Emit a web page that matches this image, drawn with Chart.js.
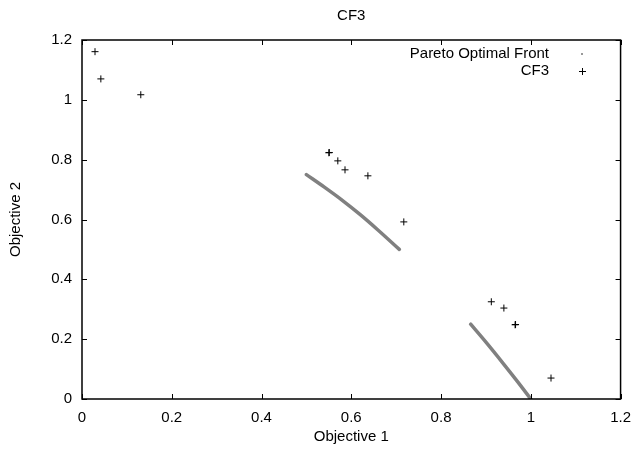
<!DOCTYPE html>
<html>
<head>
<meta charset="utf-8">
<script src="https://cdn.jsdelivr.net/npm/chart.js@4.4.1/dist/chart.umd.min.js"></script>
<style>
  html, body { margin: 0; padding: 0; background: #fff; }
  #chart { display: block; }
</style>
</head>
<body>
<canvas id="chart" width="641" height="454"></canvas>
<script>
// values
const xTicks = [0, 0.2, 0.4, 0.6, 0.8, 1, 1.2];
const yTicks = [0, 0.2, 0.4, 0.6, 0.8, 1, 1.2];

// Pareto optimal front (two pieces, null breaks the line)
const paretoX = [0.50, 0.54, 0.58, 0.62, 0.66, 0.707, null, 0.866, 0.90, 0.94, 0.97, 1.00];
const paretoY = [0.75, 0.708, 0.664, 0.616, 0.564, 0.50, null, 0.25, 0.19, 0.116, 0.059, 0.00];

// CF3 solutions
const cf3X = [0.029, 0.042, 0.131, 0.550, 0.551, 0.570, 0.586, 0.637, 0.717, 0.912, 0.940, 0.965, 0.966, 1.045];
const cf3Y = [1.161, 1.070, 1.017, 0.823, 0.824, 0.796, 0.766, 0.746, 0.592, 0.325, 0.304, 0.248, 0.249, 0.070];

const FONT = "'Liberation Sans', Arial, Helvetica, sans-serif";
const FSIZE = 15;

function toPoints(xs, ys) {
    return xs.map(function(x, i){
        if (x === null) return {x: null, y: null};
        return {x: x, y: ys[i]};
    });
}

// frame, inward ticks on all sides, title, axis titles and key
const decorations = {
    id: 'decorations',
    afterDraw(chart) {
        const ctx = chart.ctx;
        const a = chart.chartArea;
        const xs = chart.scales.x;
        const ys = chart.scales.y;
        const tl = 5;
        ctx.save();
        ctx.strokeStyle = '#000';
        ctx.lineWidth = 1.5;
        ctx.strokeRect(a.left, a.top, a.right - a.left, a.bottom - a.top);

        ctx.lineWidth = 1;
        ctx.beginPath();
        xTicks.forEach(function(v){
            const px = Math.round(xs.getPixelForValue(v)) + 0.5;
            ctx.moveTo(px, a.bottom); ctx.lineTo(px, a.bottom - tl);
            ctx.moveTo(px, a.top); ctx.lineTo(px, a.top + tl);
        });
        yTicks.forEach(function(v){
            const py = Math.round(ys.getPixelForValue(v)) + 0.5;
            ctx.moveTo(a.left, py); ctx.lineTo(a.left + tl, py);
            ctx.moveTo(a.right, py); ctx.lineTo(a.right - tl, py);
        });
        ctx.stroke();

        ctx.fillStyle = '#000';
        ctx.font = FSIZE + 'px ' + FONT;
        ctx.textBaseline = 'middle';
        ctx.textAlign = 'center';
        const cx = (a.left + a.right) / 2;
        ctx.fillText('CF3', cx, 16);
        ctx.fillText('Objective 1', cx, 437);

        ctx.save();
        ctx.translate(16, (a.top + a.bottom) / 2);
        ctx.rotate(-Math.PI / 2);
        ctx.fillText('Objective 2', 0, 0);
        ctx.restore();

        // key
        ctx.textAlign = 'right';
        ctx.fillText('Pareto Optimal Front', 549, 54);
        ctx.fillText('CF3', 549, 71);
        ctx.fillStyle = '#999';
        ctx.fillRect(581, 53, 2, 2);
        ctx.strokeStyle = '#000';
        ctx.beginPath();
        ctx.moveTo(579, 71.5); ctx.lineTo(586, 71.5);
        ctx.moveTo(582.5, 68); ctx.lineTo(582.5, 75);
        ctx.stroke();
        ctx.restore();
    }
};

const chart = new Chart(document.getElementById('chart').getContext('2d'), {
    type: 'scatter',
    data: {
        datasets: [{
            label: 'Pareto Optimal Front',
            data: toPoints(paretoX, paretoY),
            showLine: true,
            spanGaps: false,
            borderColor: '#808080',
            borderWidth: 3.5,
            borderCapStyle: 'round',
            pointRadius: 0,
            cubicInterpolationMode: 'monotone'
        }, {
            label: 'CF3',
            data: toPoints(cf3X, cf3Y),
            pointStyle: 'cross',
            pointRadius: 3.5,
            borderColor: '#000',
            backgroundColor: '#000',
            borderWidth: 1
        }]
    },
    options: {
        responsive: false,
        animation: false,
        layout: { padding: { top: 40, right: 18, left: 0, bottom: 0 } },
        plugins: {
            legend: { display: false },
            title: { display: false },
            tooltip: { enabled: false }
        },
        scales: {
            x: {
                type: 'linear',
                min: 0,
                max: 1.2,
                grid: { display: false, drawTicks: false },
                border: { display: false },
                afterBuildTicks: function(s){ s.ticks = xTicks.map(function(v){ return {value: v}; }); },
                afterFit: function(s){ s.height = 55; },
                ticks: {
                    color: '#000',
                    padding: 10,
                    maxRotation: 0,
                    font: { family: FONT, size: FSIZE },
                    callback: function(v){ return String(v); }
                }
            },
            y: {
                type: 'linear',
                min: 0,
                max: 1.2,
                grid: { display: false, drawTicks: false },
                border: { display: false },
                afterBuildTicks: function(s){ s.ticks = yTicks.map(function(v){ return {value: v}; }); },
                afterFit: function(s){ s.width = 82; },
                ticks: {
                    color: '#000',
                    padding: 10,
                    font: { family: FONT, size: FSIZE },
                    callback: function(v){ return String(v); }
                }
            }
        }
    },
    plugins: [decorations]
});
</script>
</body>
</html>
